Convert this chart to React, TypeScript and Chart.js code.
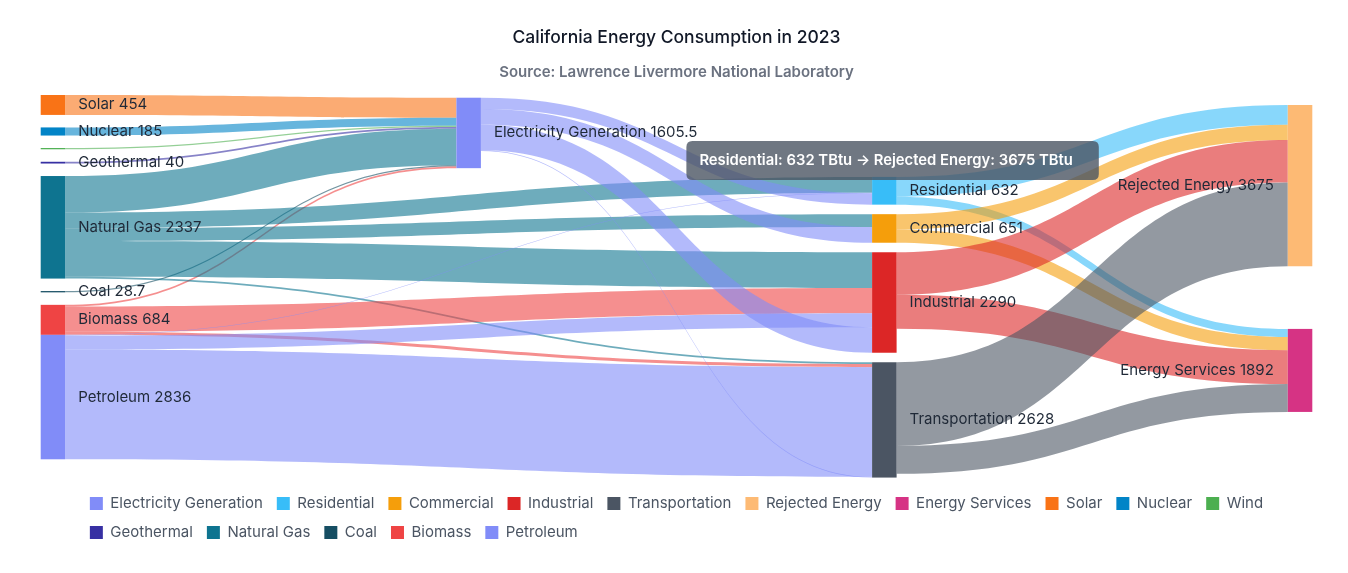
import React, { useEffect, useRef } from 'react';
import { Chart, registerables } from 'chart.js';

Chart.register(...registerables);

// ---------------- Data ----------------
const TITLE = 'California Energy Consumption in 2023';
const SUBTITLE = 'Source: Lawrence Livermore National Laboratory';
const UNIT = 'TBtu';

const NODE_NAMES = [
  'Electricity Generation', 'Residential', 'Commercial', 'Industrial', 'Transportation',
  'Rejected Energy', 'Energy Services', 'Solar', 'Nuclear', 'Wind', 'Geothermal',
  'Natural Gas', 'Coal', 'Biomass', 'Petroleum',
];
const NODE_COLUMNS = [1, 2, 2, 2, 2, 3, 3, 0, 0, 0, 0, 0, 0, 0, 0];
const NODE_COLORS = [
  '#818cf8', '#38bdf8', '#f59e0b', '#dc2626', '#4b5563',
  '#fdba74', '#d63384', '#f97316', '#0284c7', '#4caf50', '#3730a3',
  '#0e7490', '#164e63', '#ef4444', '#818cf8',
];

const FLOW_FROM = [
  'Solar', 'Nuclear', 'Wind', 'Geothermal', 'Natural Gas', 'Coal', 'Biomass',
  'Natural Gas', 'Natural Gas', 'Natural Gas', 'Natural Gas',
  'Biomass', 'Biomass',
  'Petroleum', 'Petroleum', 'Petroleum',
  'Electricity Generation', 'Electricity Generation', 'Electricity Generation', 'Electricity Generation',
  'Residential', 'Residential', 'Commercial', 'Commercial',
  'Industrial', 'Industrial', 'Transportation', 'Transportation',
];
const FLOW_TO = [
  'Electricity Generation', 'Electricity Generation', 'Electricity Generation', 'Electricity Generation',
  'Electricity Generation', 'Electricity Generation', 'Electricity Generation',
  'Residential', 'Commercial', 'Industrial', 'Transportation',
  'Industrial', 'Transportation',
  'Residential', 'Industrial', 'Transportation',
  'Residential', 'Commercial', 'Industrial', 'Transportation',
  'Rejected Energy', 'Energy Services', 'Rejected Energy', 'Energy Services',
  'Rejected Energy', 'Energy Services', 'Rejected Energy', 'Energy Services',
];
const FLOW_VALUES = [
  454, 185, 27.8, 40, 830, 28.7, 40,
  358, 293, 815, 41,
  574, 70,
  16, 320, 2500,
  258, 358, 581, 17,
  450, 182, 348, 303,
  969, 773, 1908, 634,
];

const TOOLTIP_FLOW = ['Residential', 'Rejected Energy'];

// ---------------- Layout config (not data) ----------------
const LAYOUT = {
  yMax: 8820,
  columnStart: [0, 62, 1867, 228],
  columnGap: [285, 0, 217, 1428],
  flush: ['Petroleum'],
  unlabeled: ['Wind'],
  nodeWidth: 24.5,
  linkAlpha: 0.6,
};

const fmt = (v: number) => String(Math.round(v * 10) / 10);

function rgba(hex: string, a: number) {
  const h = hex.replace('#', '');
  const r = parseInt(h.slice(0, 2), 16);
  const g = parseInt(h.slice(2, 4), 16);
  const b = parseInt(h.slice(4, 6), 16);
  return `rgba(${r},${g},${b},${a})`;
}

type SNode = {
  name: string; col: number; color: string; idx: number;
  inSum: number; outSum: number; value: number; y0: number;
  ins: SLink[]; outs: SLink[];
};
type SLink = { s: SNode; t: SNode; v: number; sy: number; ty: number };

function buildSankey() {
  const nodes: SNode[] = NODE_NAMES.map((name, i) => ({
    name, col: NODE_COLUMNS[i], color: NODE_COLORS[i], idx: i,
    inSum: 0, outSum: 0, value: 0, y0: 0, ins: [], outs: [],
  }));
  const byName = (n: string) => nodes[NODE_NAMES.indexOf(n)];
  const links: SLink[] = FLOW_VALUES.map((v, k) => {
    const s = byName(FLOW_FROM[k]);
    const t = byName(FLOW_TO[k]);
    const l = { s, t, v, sy: 0, ty: 0 };
    s.outs.push(l); t.ins.push(l);
    s.outSum += v; t.inSum += v;
    return l;
  });
  nodes.forEach((n) => { n.value = Math.max(n.inSum, n.outSum); });
  const maxCol = Math.max(...NODE_COLUMNS);
  for (let c = 0; c <= maxCol; c++) {
    let y = LAYOUT.columnStart[c];
    let first = true;
    nodes.filter((n) => n.col === c).forEach((n) => {
      if (!first && !LAYOUT.flush.includes(n.name)) y += LAYOUT.columnGap[c];
      n.y0 = y;
      y += n.value;
      first = false;
    });
  }
  nodes.forEach((n) => {
    n.outs.sort((a, b) => (a.t.col - b.t.col) || (a.t.y0 - b.t.y0));
    n.ins.sort((a, b) => (a.s.col - b.s.col) || (a.s.y0 - b.s.y0));
    let o = n.y0;
    n.outs.forEach((l) => { l.sy = o; o += l.v; });
    let i = n.y0;
    n.ins.forEach((l) => { l.ty = i; i += l.v; });
  });
  return { nodes, links, maxCol };
}

const sankeyPlugin = {
  id: 'sankeyDraw',
  afterLayout(chart: any) {
    const lg = chart.legend;
    if (lg && lg.lineWidths && lg.lineWidths.length) {
      const pad = lg.options.labels.padding;
      const start = (lg.left + pad + lg.right - lg.lineWidths[0]) / 2;
      lg.left = start - pad;
    }
  },
  afterDatasetsDraw(chart: any) {
    const { ctx, scales } = chart;
    const xs = scales.x, ys = scales.y;
    const { nodes, links, maxCol } = buildSankey();
    const W = LAYOUT.nodeWidth;
    const left = (n: SNode) => xs.getPixelForValue(n.col) - (n.col / maxCol) * W;
    const py = (v: number) => ys.getPixelForValue(v);
    ctx.save();
    links.forEach((l) => {
      const x0 = left(l.s) + W;
      const x1 = left(l.t);
      const a0 = py(l.sy), a1 = py(l.sy + l.v);
      const b0 = py(l.ty), b1 = py(l.ty + l.v);
      const cx = (x0 + x1) / 2;
      ctx.beginPath();
      ctx.moveTo(x0, a0);
      ctx.bezierCurveTo(cx, a0, cx, b0, x1, b0);
      ctx.lineTo(x1, b1);
      ctx.bezierCurveTo(cx, b1, cx, a1, x0, a1);
      ctx.closePath();
      ctx.fillStyle = rgba(l.s.color, LAYOUT.linkAlpha);
      ctx.fill();
    });
    nodes.forEach((n) => {
      const top = py(n.y0);
      const h = py(n.y0 + n.value) - top;
      ctx.fillStyle = n.color;
      ctx.fillRect(left(n), top, W, Math.max(h, 1));
    });
    ctx.font = '15px Inter, "Noto Sans", sans-serif';
    ctx.fillStyle = '#1f2937';
    ctx.textBaseline = 'middle';
    nodes.forEach((n) => {
      if (LAYOUT.unlabeled.includes(n.name)) return;
      const cy = (py(n.y0) + py(n.y0 + n.value)) / 2;
      const text = `${n.name} ${fmt(n.value)}`;
      if (n.col === maxCol) {
        ctx.textAlign = 'right';
        ctx.fillText(text, left(n) - 14, cy);
      } else {
        ctx.textAlign = 'left';
        ctx.fillText(text, left(n) + W + 13, cy);
      }
    });
    // hovered-link tooltip
    const s = nodes[NODE_NAMES.indexOf(TOOLTIP_FLOW[0])];
    const t = nodes[NODE_NAMES.indexOf(TOOLTIP_FLOW[1])];
    const text = `${s.name}: ${fmt(s.value)} ${UNIT} \u2192 ${t.name}: ${fmt(t.value)} ${UNIT}`;
    ctx.font = '600 14.8px Inter, "Noto Sans", sans-serif';
    const tw = ctx.measureText(text).width;
    const bw = tw + 13 + 26;
    const bh = 39;
    const anchorX = left(s) + W - 4;
    const bx = anchorX - bw / 2;
    const by = py(s.y0) + 3 - bh;
    const r = 6;
    ctx.beginPath();
    ctx.moveTo(bx + r, by);
    ctx.lineTo(bx + bw - r, by);
    ctx.quadraticCurveTo(bx + bw, by, bx + bw, by + r);
    ctx.lineTo(bx + bw, by + bh - r);
    ctx.quadraticCurveTo(bx + bw, by + bh, bx + bw - r, by + bh);
    ctx.lineTo(bx + r, by + bh);
    ctx.quadraticCurveTo(bx, by + bh, bx, by + bh - r);
    ctx.lineTo(bx, by + r);
    ctx.quadraticCurveTo(bx, by, bx + r, by);
    ctx.closePath();
    ctx.fillStyle = 'rgba(75,85,99,0.8)';
    ctx.fill();
    ctx.fillStyle = '#ffffff';
    ctx.textAlign = 'left';
    ctx.fillText(text, bx + 13, by + bh / 2);
    ctx.restore();
  },
};

export default function App() {
  const ref = useRef<HTMLCanvasElement>(null);
  useEffect(() => {
    Chart.defaults.font.family = 'Inter, "Noto Sans", sans-serif';
    const chart = new Chart(ref.current as HTMLCanvasElement, {
      type: 'scatter',
      data: {
        datasets: NODE_NAMES.map((name, i) => ({
          label: name,
          data: [],
          backgroundColor: NODE_COLORS[i],
          borderColor: NODE_COLORS[i],
          borderWidth: 0,
        })),
      },
      options: {
        animation: false,
        responsive: true,
        maintainAspectRatio: false,
        layout: { padding: { left: 32.7, right: 27.7, top: 0, bottom: 15 } },
        scales: {
          x: { type: 'linear', min: 0, max: Math.max(...NODE_COLUMNS), display: false },
          y: { type: 'linear', min: 0, max: LAYOUT.yMax, reverse: true, display: false },
        },
        plugins: {
          title: {
            display: true, text: TITLE, color: '#111827',
            font: { size: 17.5, weight: '500' }, padding: { top: 19.5, bottom: 8 },
          },
          subtitle: {
            display: true, text: SUBTITLE, color: '#6b7280',
            font: { size: 15, weight: '600' }, padding: { top: 6.5, bottom: 14 },
          },
          legend: {
            display: true, position: 'bottom', align: 'start',
            labels: { boxWidth: 13, boxHeight: 13, padding: 14, color: '#4b5563', font: { size: 15 } },
          },
          tooltip: { enabled: false },
        },
      },
      plugins: [sankeyPlugin],
    } as any);
    return () => chart.destroy();
  }, []);
  return (
    <div style={{ position: 'relative', width: '100%', height: '557px' }}>
      <canvas ref={ref} />
    </div>
  );
}
